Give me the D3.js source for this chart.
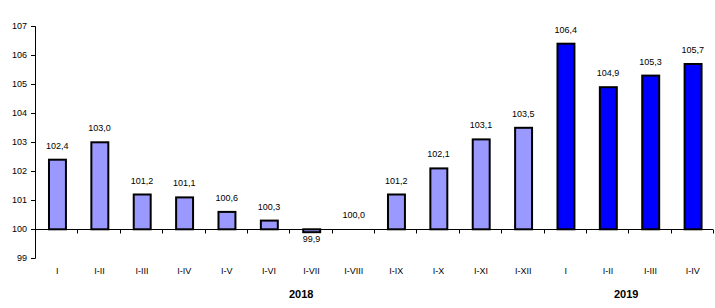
<!DOCTYPE html>
<html><head><meta charset="utf-8">
<script src="https://cdn.jsdelivr.net/npm/d3@7"></script>
<style>
html,body{margin:0;padding:0;background:#fff;}
svg{display:block;font-family:"Liberation Sans",Arial,sans-serif;}
</style></head>
<body>
<svg id="chart" width="715" height="308"></svg>
<script>
const categories = ["I","I-II","I-III","I-IV","I-V","I-VI","I-VII","I-VIII","I-IX","I-X","I-XI","I-XII","I","I-II","I-III","I-IV"];
const values = [102.4,103.0,101.2,101.1,100.6,100.3,99.9,100.0,101.2,102.1,103.1,103.5,106.4,104.9,105.3,105.7];
const years = ["2018","2018","2018","2018","2018","2018","2018","2018","2018","2018","2018","2018","2019","2019","2019","2019"];
const yTicks = [99,100,101,102,103,104,105,106,107];
const yearLabels = ["2018","2019"];
const colors = {"2018":"#9999FF","2019":"#0000FF"};

const svg = d3.select("#chart");
const x = d3.scaleBand().domain(d3.range(categories.length)).range([35,713]).padding(0);
const y = d3.scaleLinear().domain([99,107]).range([258.3,26.3]);
const bw = x.bandwidth();
const fmt = v => d3.format(".1f")(v).replace(".", ",");

// y axis
svg.append("line").attr("x1",35.5).attr("x2",35.5).attr("y1",y(107)).attr("y2",y(99)).attr("stroke","#000");
svg.selectAll(".ytick").data(yTicks).join("line")
  .attr("x1",31).attr("x2",35.5).attr("y1",d=>Math.round(y(d))+0.5).attr("y2",d=>Math.round(y(d))+0.5).attr("stroke","#000");
svg.selectAll(".ylab").data(yTicks).join("text")
  .attr("x",27).attr("y",d=>y(d)).attr("dy","0.35em").attr("text-anchor","end")
  .attr("font-size",9).attr("fill","#000").text(d=>d);

// bars
svg.selectAll(".bar").data(values).join("rect")
  .attr("x",(d,i)=>x(i)+bw*0.33)
  .attr("width",bw*0.40)
  .attr("y",d=>Math.min(y(d),y(100)))
  .attr("height",d=>Math.abs(y(d)-y(100)))
  .attr("fill",(d,i)=>colors[years[i]])
  .attr("stroke","#000").attr("stroke-width",2);

// x axis
const base = Math.round(y(100))+0.5;
svg.append("line").attr("x1",35).attr("x2",713).attr("y1",base).attr("y2",base).attr("stroke","#000");
svg.selectAll(".xtick").data(d3.range(1,categories.length+1)).join("line")
  .attr("x1",i=>Math.round(x(0)+i*bw)+0.5).attr("x2",i=>Math.round(x(0)+i*bw)+0.5)
  .attr("y1",base).attr("y2",base+4).attr("stroke","#000");
svg.selectAll(".xlab").data(categories).join("text")
  .attr("x",(d,i)=>x(i)+bw/2+1).attr("y",273.5).attr("text-anchor","middle")
  .attr("font-size",9).attr("fill","#000").text(d=>d);

// value labels
svg.selectAll(".vlab").data(values).join("text")
  .attr("x",(d,i)=>x(i)+bw/2+1)
  .attr("y",d=>d>=100 ? y(d)-11 : y(d)+10)
  .attr("text-anchor","middle").attr("font-size",9).attr("fill","#000")
  .text(d=>fmt(d));

// year labels
yearLabels.forEach((yr,k)=>{
  const idx = years.map((v,i)=>v===yr?i:-1).filter(i=>i>=0);
  const cx = (x(idx[0]) + x(idx[idx.length-1]) + bw)/2 + (k===0?12:-2);
  svg.append("text").attr("x",cx).attr("y",298).attr("text-anchor","middle")
    .attr("font-size",11).attr("font-weight","bold").attr("fill","#000").text(yr);
});
</script>
</body></html>
